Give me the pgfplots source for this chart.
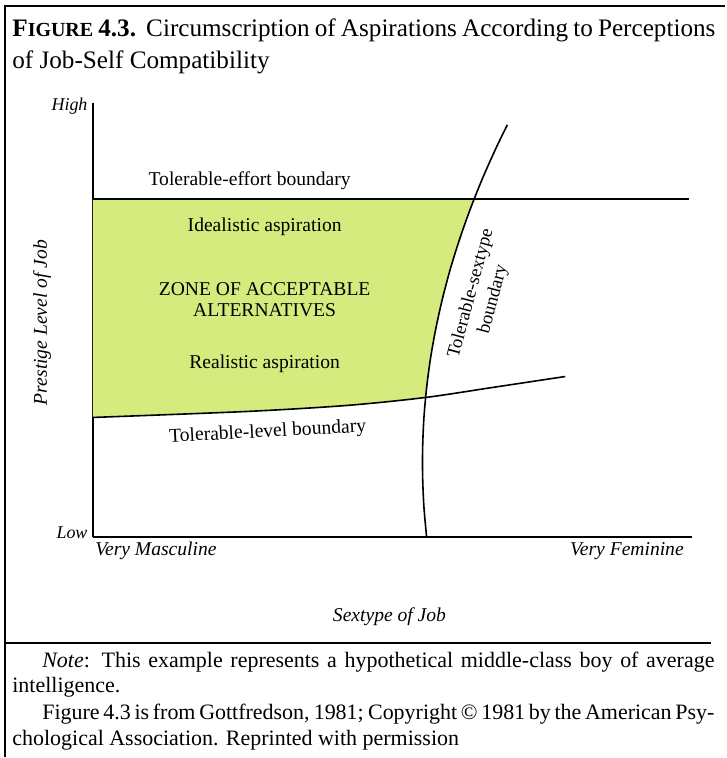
\documentclass[border=0pt]{standalone}
\usepackage{fontspec}
\setmainfont{Liberation Serif}
\usepackage{pgfplots}
\pgfplotsset{compat=1.18}
\definecolor{zone}{RGB}{213,235,125}
\tikzset{lbl/.style={font=\fontsize{9.8}{11}\selectfont, inner sep=0pt}}

\begin{document}
\begin{tikzpicture}
\begin{axis}[
  anchor=origin, at={(0pt,0pt)},
  scale only axis, width=300pt, height=217.5pt,
  xmin=0, xmax=600, ymin=0, ymax=435,
  axis lines=left, axis line style={-, line width=0.8pt},
  xtick=\empty, ytick=\empty, clip=false,
  every axis plot/.append style={line width=0.8pt, black},
]
% page frame
\path (-93,-220) rectangle (633,538);
\draw[line width=1pt] (-88,-220) -- (-88,532) -- (633,532);
\draw[line width=0.9pt] (-88,-106) -- (619,-106);

% acceptable zone
\addplot[fill=zone, draw=none] coordinates {
  (0,120) (154,126) (254,132) (333.1,140) (334.2,150) (338.2,180) (343.6,210)
  (350.3,240) (358.3,270) (367.7,300) (378.4,330) (381.9,339) (0,339)
} -- cycle;

% boundaries
\addplot[no marks] coordinates {(0,339) (597,339)};
\addplot[no marks, smooth] coordinates {
  (0,120) (154,126) (254,132) (333,140) (400,150) (473,161)
};
\addplot[no marks, smooth] coordinates {
  (334.2,0) (331.5,30) (330.2,60) (330.2,90) (331.5,120) (334.2,150) (338.2,180)
  (343.6,210) (350.3,240) (358.3,270) (367.7,300) (378.4,330) (390.4,360)
  (403.8,390) (415,413)
};

% labels inside
\node[lbl] at (157,357) {Tolerable-effort boundary};
\node[lbl] at (172,311) {Idealistic aspiration};
\node[lbl, align=center, font=\fontsize{9.8}{10.8}\selectfont] at (172,238) {ZONE OF ACCEPTABLE\\ALTERNATIVES};
\node[lbl] at (172,174) {Realistic aspiration};
\node[lbl, rotate=3] at (175,105) {Tolerable-level boundary};
\node[lbl, rotate=75, align=center, font=\fontsize{9.3}{11.5}\selectfont] at (390,241) {Tolerable-sextype\\boundary};

% axis descriptions
\node[lbl, anchor=east, font=\fontsize{9}{10}\selectfont\itshape] at (-5,432) {High};
\node[lbl, anchor=east, font=\fontsize{9}{10}\selectfont\itshape] at (-5,5) {Low};
\node[lbl, anchor=west, font=\fontsize{9.8}{10}\selectfont\itshape] at (2,-14) {Very Masculine};
\node[lbl, anchor=east, font=\fontsize{9.8}{10}\selectfont\itshape] at (592,-14) {Very Feminine};
\node[lbl, font=\fontsize{9.8}{10}\selectfont\itshape] at (297,-80) {Sextype of Job};
\node[lbl, rotate=90, font=\fontsize{9.8}{10}\selectfont\itshape] at (-51,215) {Prestige Level of Job};

% title
\node[inner sep=0pt, anchor=west, font=\fontsize{12.6}{14}\selectfont] at (-81,508)
  {\makebox[352pt][s]{\textbf{F{\fontsize{10}{11}\selectfont IGURE} 4.3.}\ \ Circumscription of Aspirations According to Perceptions}};
\node[inner sep=0pt, anchor=west, font=\fontsize{12.6}{14}\selectfont] at (-81,476)
  {of Job-Self Compatibility};

% note
\node[inner sep=0pt, anchor=west, font=\fontsize{11}{12}\selectfont] at (-51,-125)
  {\makebox[336.5pt][s]{\textit{Note}: This example represents a hypothetical middle-class boy of average}};
\node[inner sep=0pt, anchor=west, font=\fontsize{11}{12}\selectfont] at (-81,-150)
  {intelligence.};
\node[inner sep=0pt, anchor=west, font=\fontsize{11}{12}\selectfont] at (-51,-177)
  {\makebox[336.5pt][s]{Figure 4.3 is from Gottfredson, 1981; Copyright © 1981 by the American Psy-}};
\node[inner sep=0pt, anchor=west, font=\fontsize{11}{12}\selectfont] at (-81,-203)
  {chological Association. Reprinted with permission};
\end{axis}
\end{tikzpicture}
\end{document}
